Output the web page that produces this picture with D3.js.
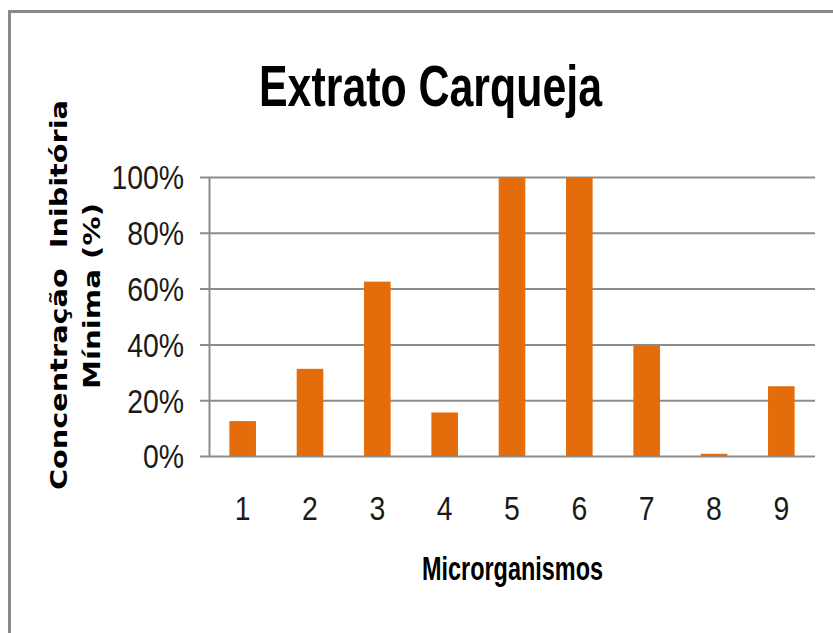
<!DOCTYPE html>
<html>
<head>
<meta charset="utf-8">
<script src="https://cdn.jsdelivr.net/npm/d3@7"></script>
<style>
  html, body { margin: 0; padding: 0; background: #fff; }
  svg { display: block; }
</style>
</head>
<body>
<script>
// Microrganismos tested and the minimum inhibitory concentration of the extract
const categories = ["1", "2", "3", "4", "5", "6", "7", "8", "9"];
const micValues = [0.125, 0.3125, 0.625, 0.156, 1.0, 1.0, 0.395, 0.008, 0.25];
const yTickValues = [0, 0.2, 0.4, 0.6, 0.8, 1.0];
const yTickLabels = ["0%", "20%", "40%", "60%", "80%", "100%"];

const W = 833, H = 633;
const plot = { left: 209, right: 815, top: 177, bottom: 456 };
const barColor = "#E46C0A";
const gridColor = "#8c8c8c";
const narrow = "'Liberation Sans Narrow', 'Liberation Sans', Arial, sans-serif";

const svg = d3.select("body").append("svg")
  .attr("width", W).attr("height", H);

// squeeze text horizontally by a factor of its natural width
function condense(sel, f) {
  sel.each(function () {
    const n = this.getComputedTextLength();
    this.setAttribute("textLength", n * f);
    this.setAttribute("lengthAdjust", "spacingAndGlyphs");
  });
}

// outer frame (top and left edges)
svg.append("path")
  .attr("d", `M9.5,${H} V11.5 H${W}`)
  .attr("fill", "none")
  .attr("stroke", "#8a8a8a")
  .attr("stroke-width", 3);

const x = d3.scaleBand()
  .domain(categories)
  .range([plot.left, plot.right])
  .paddingInner(0.605)
  .paddingOuter(0.3025);

const y = d3.scaleLinear()
  .domain([0, 1])
  .range([plot.bottom, plot.top]);

// y axis with gridlines
const yAxis = d3.axisLeft(y)
  .tickValues(yTickValues)
  .tickFormat((d, i) => yTickLabels[i])
  .tickSizeInner(-(plot.right - plot.left))
  .tickSizeOuter(0)
  .tickPadding(25);

const gy = svg.append("g")
  .attr("transform", `translate(${plot.left},0)`)
  .call(yAxis);
gy.select(".domain")
  .attr("stroke", gridColor).attr("stroke-width", 2)
  .attr("d", `M0.5,${plot.top} V${plot.bottom}`);
gy.selectAll(".tick line")
  .attr("x1", -9)
  .attr("stroke", gridColor)
  .attr("stroke-width", 2);
gy.selectAll(".tick text")
  .attr("font-family", narrow)
  .attr("font-size", 33)
  .attr("fill", "#1a1a1a")
  .attr("dy", "0.36em")
  .call(condense, 0.86);

// bars
svg.append("g").selectAll("rect")
  .data(categories)
  .join("rect")
  .attr("x", d => x(d))
  .attr("width", x.bandwidth())
  .attr("y", (d, i) => y(micValues[i]))
  .attr("height", (d, i) => y(0) - y(micValues[i]))
  .attr("fill", barColor);

// x axis labels
const xAxis = d3.axisBottom(x).tickSize(0).tickPadding(0);
const gx = svg.append("g")
  .attr("transform", `translate(0,${plot.bottom})`)
  .call(xAxis);
gx.select(".domain").remove();
gx.selectAll(".tick text")
  .attr("font-family", narrow)
  .attr("font-size", 33)
  .attr("fill", "#1a1a1a")
  .attr("dy", null)
  .attr("y", 64)
  .call(condense, 0.86);

// title
svg.append("text")
  .attr("x", 430.5).attr("y", 106)
  .attr("text-anchor", "middle")
  .attr("font-family", narrow)
  .attr("font-weight", "bold")
  .attr("font-size", 57)
  .attr("textLength", 343)
  .attr("lengthAdjust", "spacingAndGlyphs")
  .text("Extrato Carqueja");

// x axis title
svg.append("text")
  .attr("x", 512.5).attr("y", 580)
  .attr("text-anchor", "middle")
  .attr("font-family", narrow)
  .attr("font-weight", "bold")
  .attr("font-size", 33)
  .attr("textLength", 181)
  .attr("lengthAdjust", "spacingAndGlyphs")
  .text("Microrganismos");

// y axis title, two lines
const yTitle = [
  { text: "Concentração  Inibitória", x: 67, cy: 295, len: 390 },
  { text: "Mínima (%)", x: 100, cy: 296, len: 186 }
];
svg.append("g").selectAll("text")
  .data(yTitle)
  .join("text")
  .attr("transform", d => `translate(${d.x},${d.cy}) rotate(-90)`)
  .attr("text-anchor", "middle")
  .attr("font-family", "'DejaVu Sans', Verdana, sans-serif")
  .attr("font-weight", "bold")
  .attr("font-size", 23)
  .style("white-space", "pre")
  .attr("textLength", d => d.len)
  .attr("lengthAdjust", "spacingAndGlyphs")
  .text(d => d.text);
</script>
</body>
</html>
